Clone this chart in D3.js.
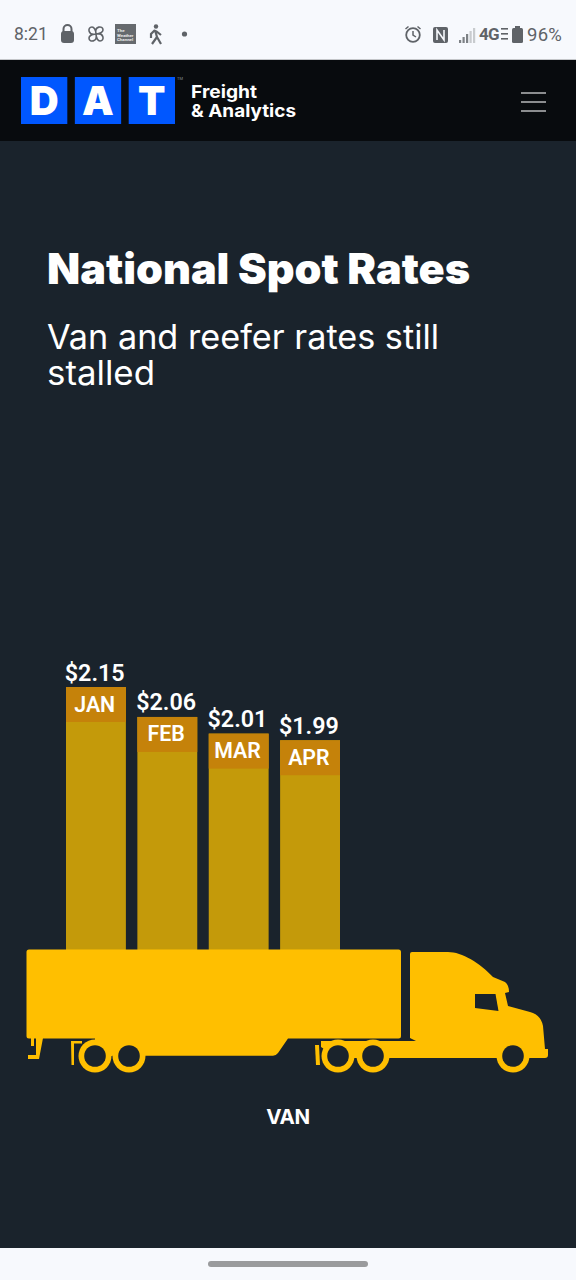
<!DOCTYPE html>
<html>
<head>
<meta charset="utf-8">
<script src="https://cdn.jsdelivr.net/npm/d3@7"></script>
<style>
html, body { margin: 0; padding: 0; background: #1a232c; }
svg { display: block; }
text { font-family: Roboto, sans-serif; }
</style>
</head>
<body>
<div id="chart"></div>
<script>
// Data
var months = ["JAN", "FEB", "MAR", "APR"];
var rates = [2.15, 2.06, 2.01, 1.99];
var logoLetters = ["D", "A", "T"];

var width = 576,
	height = 1280,
	barBottom = 950,
	yellow = "#ffbf00",
	bg = "#1a232c";

var svg = d3.select("#chart").append("svg")
	.attr("width", width)
	.attr("height", height);

svg.append("rect").attr("width", width).attr("height", height).attr("fill", bg);

// Status bar
svg.append("rect").attr("width", width).attr("height", 60).attr("fill", "#f7f9fd");
svg.append("rect").attr("y", 59).attr("width", width).attr("height", 1).attr("fill", "#c4c6c9");

var statusBar = svg.append("g").attr("fill", "#5f6368");
statusBar.append("text").attr("x", 14).attr("y", 40).attr("font-size", 17.5).text("8:21");
// lock
statusBar.append("rect").attr("x", 61).attr("y", 31).attr("width", 13).attr("height", 12).attr("rx", 3);
statusBar.append("path").attr("d", "M63.5 32v-3a4 4 0 0 1 8 0v3").attr("fill", "none").attr("stroke", "#5f6368").attr("stroke-width", 2);
// pinwheel
statusBar.append("path")
	.attr("d", "M96 34c-2-8 7-9 7-4 0 2-3 4-7 4c8-2 9 7 4 7-2 0-4-3-4-7c2 8-7 9-7 4 0-2 3-4 7-4c-8 2-9-7-4-7 2 0 4 3 4 7z")
	.attr("fill", "none").attr("stroke", "#5f6368").attr("stroke-width", 1.6);
// weather channel tile
statusBar.append("rect").attr("x", 115).attr("y", 24).attr("width", 21).attr("height", 20).attr("fill", "#666a6e");
["The", "Weather", "Channel"].forEach(function(t, i) {
	statusBar.append("text").attr("x", 117).attr("y", 32 + i * 4.5).attr("font-size", 4.4).attr("font-weight", 700).attr("fill", "#e8e8e8").text(t);
});
// walker
statusBar.append("circle").attr("cx", 156).attr("cy", 26.5).attr("r", 2.2);
statusBar.append("path")
	.attr("d", "M155 30l-4 4v4M155 30l2 7-5 7M157 37l4 7M156 31l5 4")
	.attr("fill", "none").attr("stroke", "#5f6368").attr("stroke-width", 2.2);
statusBar.append("circle").attr("cx", 184.5).attr("cy", 34).attr("r", 2.6);
// alarm
statusBar.append("circle").attr("cx", 413).attr("cy", 35).attr("r", 6.8).attr("fill", "none").attr("stroke", "#5f6368").attr("stroke-width", 1.8);
statusBar.append("path").attr("d", "M413 31v4l3 2M405.5 29l3-2.5M420.5 29l-3-2.5").attr("fill", "none").attr("stroke", "#5f6368").attr("stroke-width", 1.5);
// nfc
statusBar.append("rect").attr("x", 433).attr("y", 27).attr("width", 15).attr("height", 16).attr("rx", 2);
statusBar.append("path").attr("d", "M437 40v-10l7 10v-10").attr("fill", "none").attr("stroke", "#f7f9fd").attr("stroke-width", 1.6);
// signal
[0, 1, 2, 3, 4].forEach(function(i) {
	statusBar.append("rect").attr("x", 459 + i * 3.5).attr("y", 40 - i * 3).attr("width", 2.2).attr("height", 3 + i * 3)
		.attr("fill", i < 3 ? "#7d8185" : "#c8cbce");
});
statusBar.append("text").attr("x", 479).attr("y", 40).attr("font-size", 17).attr("font-weight", 700).attr("letter-spacing", -0.8).text("4G");
statusBar.append("rect").attr("x", 501).attr("y", 28).attr("width", 7).attr("height", 1.6);
statusBar.append("rect").attr("x", 501).attr("y", 33).attr("width", 7).attr("height", 1.6);
statusBar.append("rect").attr("x", 501).attr("y", 38).attr("width", 7).attr("height", 1.6);
// battery
statusBar.append("rect").attr("x", 512).attr("y", 28).attr("width", 11).attr("height", 15).attr("rx", 1.5);
statusBar.append("rect").attr("x", 515).attr("y", 26).attr("width", 5).attr("height", 2);
statusBar.append("text").attr("x", 562).attr("y", 40.5).attr("text-anchor", "end").attr("font-size", 18.5).attr("letter-spacing", 0.2).text("96%");

// Header
svg.append("rect").attr("y", 60).attr("width", width).attr("height", 81).attr("fill", "#080b0e");

var logoX = d3.scaleBand().domain(logoLetters).range([21, 175]).paddingInner(0.14);
var logo = svg.append("g").selectAll("g").data(logoLetters).enter().append("g");
logo.append("rect")
	.attr("x", function(d) { return logoX(d); })
	.attr("y", 77)
	.attr("width", logoX.bandwidth())
	.attr("height", 47)
	.attr("fill", "#0057ff");
logo.append("text")
	.attr("x", function(d) { return logoX(d) + logoX.bandwidth() / 2; })
	.attr("y", 115)
	.attr("text-anchor", "middle")
	.attr("fill", "#fff")
	.attr("font-weight", 900)
	.attr("font-size", 40)
	.style("font-family", "Inter, sans-serif")
	.text(function(d) { return d; });
svg.append("text").attr("x", 177).attr("y", 80).attr("font-size", 4).attr("fill", "#7f8c99").text("TM");

// two lines of the brand name, tight leading as in the logo
svg.append("text").attr("x", 191).attr("y", 98).attr("fill", "#fff").attr("font-size", 17.5).attr("font-weight", 700)
	.style("font-family", "Inter, sans-serif").attr("textLength", 66).attr("lengthAdjust", "spacingAndGlyphs").text("Freight");
svg.append("text").attr("x", 191).attr("y", 117).attr("fill", "#fff").attr("font-size", 17.5).attr("font-weight", 700)
	.style("font-family", "Inter, sans-serif").attr("textLength", 105).attr("lengthAdjust", "spacingAndGlyphs").text("& Analytics");

[93, 102, 111].forEach(function(y) {
	svg.append("rect").attr("x", 521).attr("y", y - 1).attr("width", 25).attr("height", 2).attr("fill", "#8b8d8f");
});

// Titles
svg.append("text").attr("x", 47).attr("y", 284).attr("fill", "#fff")
	.style("font-family", "Inter, sans-serif")
	.attr("font-weight", 900).attr("font-size", 42)
	.attr("textLength", 423).attr("lengthAdjust", "spacingAndGlyphs")
	.text("National Spot Rates");
svg.append("text").attr("x", 47).attr("y", 349).attr("fill", "#fff")
	.style("font-family", "Inter, sans-serif")
	.attr("font-weight", 400).attr("font-size", 33.5)
	.attr("textLength", 392).attr("lengthAdjust", "spacingAndGlyphs")
	.text("Van and reefer rates still");
svg.append("text").attr("x", 47).attr("y", 385).attr("fill", "#fff")
	.style("font-family", "Inter, sans-serif")
	.attr("font-weight", 400).attr("font-size", 33.5)
	.attr("textLength", 108).attr("lengthAdjust", "spacingAndGlyphs")
	.text("stalled");

// Bars
var x = d3.scaleBand().domain(months).range([66, 340]).paddingInner(0.161);
var y = d3.scaleLinear().domain([1.36, 2.15]).range([barBottom, 687]);
var fmt = d3.format("$.2f");

var bars = svg.append("g").selectAll("g")
	.data(months)
	.enter().append("g")
	.attr("transform", function(d) { return "translate(" + x(d) + ",0)"; });

bars.append("rect")
	.attr("y", function(d, i) { return y(rates[i]); })
	.attr("width", x.bandwidth())
	.attr("height", function(d, i) { return barBottom - y(rates[i]); })
	.attr("fill", "#c49a0a");

bars.append("rect")
	.attr("y", function(d, i) { return y(rates[i]); })
	.attr("width", x.bandwidth())
	.attr("height", 35)
	.attr("fill", "#c5820a");

bars.append("text")
	.attr("x", x.bandwidth() / 2 - 1.2)
	.attr("y", function(d, i) { return y(rates[i]) - 6.5; })
	.attr("text-anchor", "middle")
	.attr("fill", "#fff")
	.attr("font-size", 23.3)
	.attr("font-weight", 600)
	.text(function(d, i) { return fmt(rates[i]); });

bars.append("text")
	.attr("x", x.bandwidth() / 2 - 1.2)
	.attr("y", function(d, i) { return y(rates[i]) + 24.5; })
	.attr("text-anchor", "middle")
	.attr("fill", "#fff")
	.attr("font-size", 21.3)
	.attr("font-weight", 600)
	.text(function(d) { return d; });

// Truck
var truck = svg.append("g").attr("fill", yellow);

// trailer
truck.append("path").attr("d",
	"M29 949.5H398.5q2.5 0 2.5 2.5V1036q0 2.5-2.5 2.5H288L278 1053q-2 2.7-5 2.7H112V1056H95V1038.5H29q-2.5 0-2.5-2.5V952q0-2.5 2.5-2.5z");
// landing gear
truck.append("path").attr("d", "M31 1038h3v8h-3zM36 1038h7l-4 21H28v-4h8z");
// rear mud flap on the trailer
truck.append("path").attr("d", "M71 1041H82v2.5H74v21.5H71.5z");
// tractor
truck.append("path").attr("d",
	"M412 952H448C462 952 480 963 493 977L505 982Q509 985 509 992L505 993L508 1006L530 1012Q541 1015 543 1026L545 1049H548V1055Q548 1058 545 1058H338L321 1047V1041H416L410 1038V954q0-2 2-2z");
// tractor mud flap
truck.append("path").attr("d", "M315 1045H319L320 1065H316z");
// cab window
truck.append("path").attr("fill", bg).attr("d", "M475 994H495.5L498.5 1011L475 1008z");

// wheels
[95, 129, 338, 373, 513].forEach(function(cx) {
	truck.append("circle").attr("cx", cx).attr("cy", 1056).attr("r", 16.5);
	truck.append("circle").attr("cx", cx).attr("cy", 1056).attr("r", 10.8).attr("fill", bg);
});

svg.append("text").attr("x", 288).attr("y", 1124).attr("text-anchor", "middle").attr("fill", "#fff")
	.style("font-family", "Inter, sans-serif")
	.attr("font-size", 20.5).attr("font-weight", 700).attr("letter-spacing", -0.4).text("VAN");

// Bottom nav
svg.append("rect").attr("y", 1248).attr("width", width).attr("height", 32).attr("fill", "#f7f9fd");
svg.append("rect").attr("x", 208).attr("y", 1261).attr("width", 160).attr("height", 6).attr("rx", 3).attr("fill", "#9a9b9d");
</script>
</body>
</html>
